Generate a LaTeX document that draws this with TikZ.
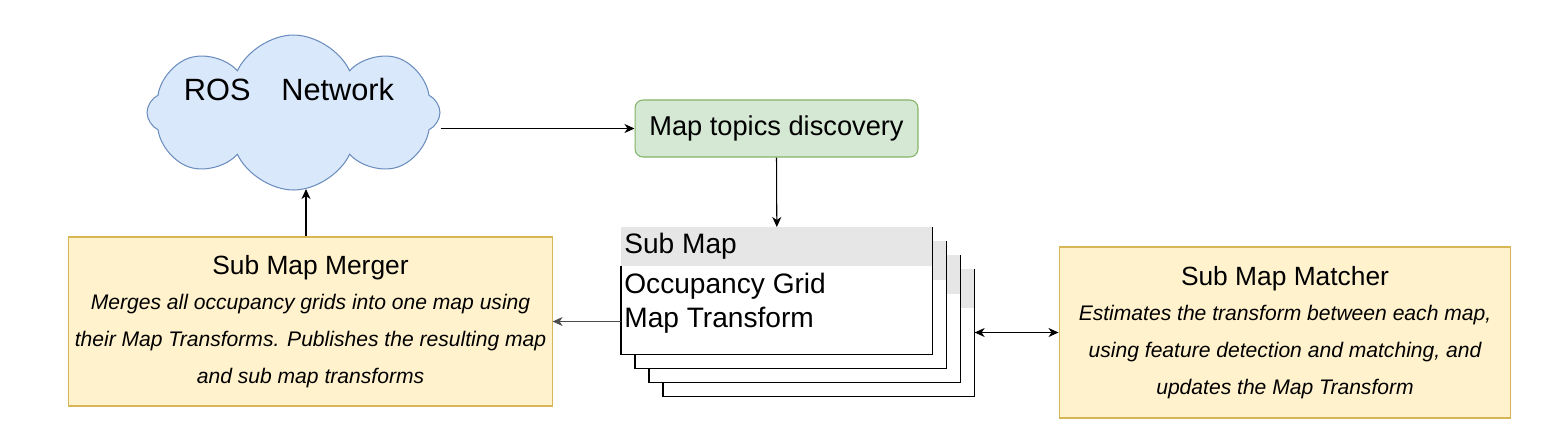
\documentclass[tikz,border=0pt]{standalone}
\usepackage{fontspec}
\setmainfont{Liberation Sans}
\usetikzlibrary{shapes,arrows.meta,calc}

\definecolor{cloudfill}{HTML}{DAE8FC}
\definecolor{cloudline}{HTML}{6C8EBF}
\definecolor{greenfill}{HTML}{D5E8D4}
\definecolor{greenline}{HTML}{82B366}
\definecolor{yellowfill}{HTML}{FFF2CC}
\definecolor{yellowline}{HTML}{D6B656}
\definecolor{headgray}{HTML}{E6E6E6}

\tikzset{
  tip/.tip={Stealth[length=0.2cm, width=0.18cm, inset=0.06cm]},
  arr/.style={-tip, line width=0.6pt},
  darr/.style={tip-tip, line width=0.6pt},
  cloudnode/.style={cloud, cloud puffs=8, cloud puff arc=130, aspect=1.9, draw=cloudline, fill=cloudfill, line width=0.6pt, minimum width=5.86cm, minimum height=3.1cm},
  topicbox/.style={rectangle, rounded corners=0.16cm, draw=greenline, fill=greenfill, line width=0.6pt, minimum width=5.66cm, minimum height=1.14cm, font=\fontsize{15.5}{18}\selectfont},
  nodebox/.style={rectangle, draw=yellowline, fill=yellowfill, line width=0.6pt, align=center, font=\fontsize{12}{21}\selectfont},
  submapbox/.style={rectangle, fill=white, minimum width=6.22cm, minimum height=2.54cm, inner sep=0, anchor=north west},
  smtext/.style={anchor=base west, inner sep=0, font=\fontsize{16}{20}\selectfont}
}

\begin{document}
\begin{tikzpicture}[x=0.02cm, y=-0.02cm]
\useasboundingbox (0,0) rectangle (1556,437);

% ROS network cloud
\node[cloudnode] (cloud) at (293.5,112.5) {};
\node[inner sep=0, font=\fontsize{17.5}{20}\selectfont] (rostext) at (289,90) {ROS\quad Network};
\coordinate (cloudbottom) at (306,189);

% topic discovery
\node[topicbox] (maptopics) at (776.5,128.5) {Map topics discovery};

% merger and matcher
\node[nodebox, minimum width=9.62cm, minimum height=3.38cm] (merger) at (310.5,321.5)
  {{\fontsize{15}{15}\selectfont Sub Map Merger}\\[-1pt]
   \itshape Merges all occupancy grids into one map using\\
   \itshape their Map Transforms. Publishes the resulting map\\
   \itshape and sub map transforms};
\node[nodebox, minimum width=9.04cm, minimum height=3.42cm] (matcher) at (1285,332.5)
  {{\fontsize{15}{15}\selectfont Sub Map Matcher}\\[-1pt]
   \itshape Estimates the transform between each map,\\
   \itshape using feature detection and matching, and\\
   \itshape updates the Map Transform};

% stack of sub maps
\foreach \i in {3,2,1,0}{
  \node[submapbox] (sm\i) at (621+14*\i,227+14*\i) {};
  \fill[headgray] (sm\i.north west) rectangle ([yshift=-0.78cm]sm\i.north east);
  \draw[line width=0.6pt] ([yshift=-0.78cm]sm\i.north west) -- (sm\i.south west) -- (sm\i.south east) -- (sm\i.north east);
}
\node[smtext] (smtitle) at (624,253) {Sub Map};
\node[smtext] (smgrid) at (624,293) {Occupancy Grid};
\node[smtext] (smtrans) at (624,327) {Map Transform};

% connections
\draw[arr] (maptopics.west -| cloud.east) -- (maptopics.west);
\draw[arr] (maptopics.south) -- (sm0.north);
\draw[arr, draw=black!70] (sm0.west |- merger.east) -- (merger.east);
\draw[arr] (merger.north -| cloudbottom) -- (cloudbottom);
\draw[darr] (sm3.east |- matcher.west) -- (matcher.west);
\end{tikzpicture}
\end{document}
